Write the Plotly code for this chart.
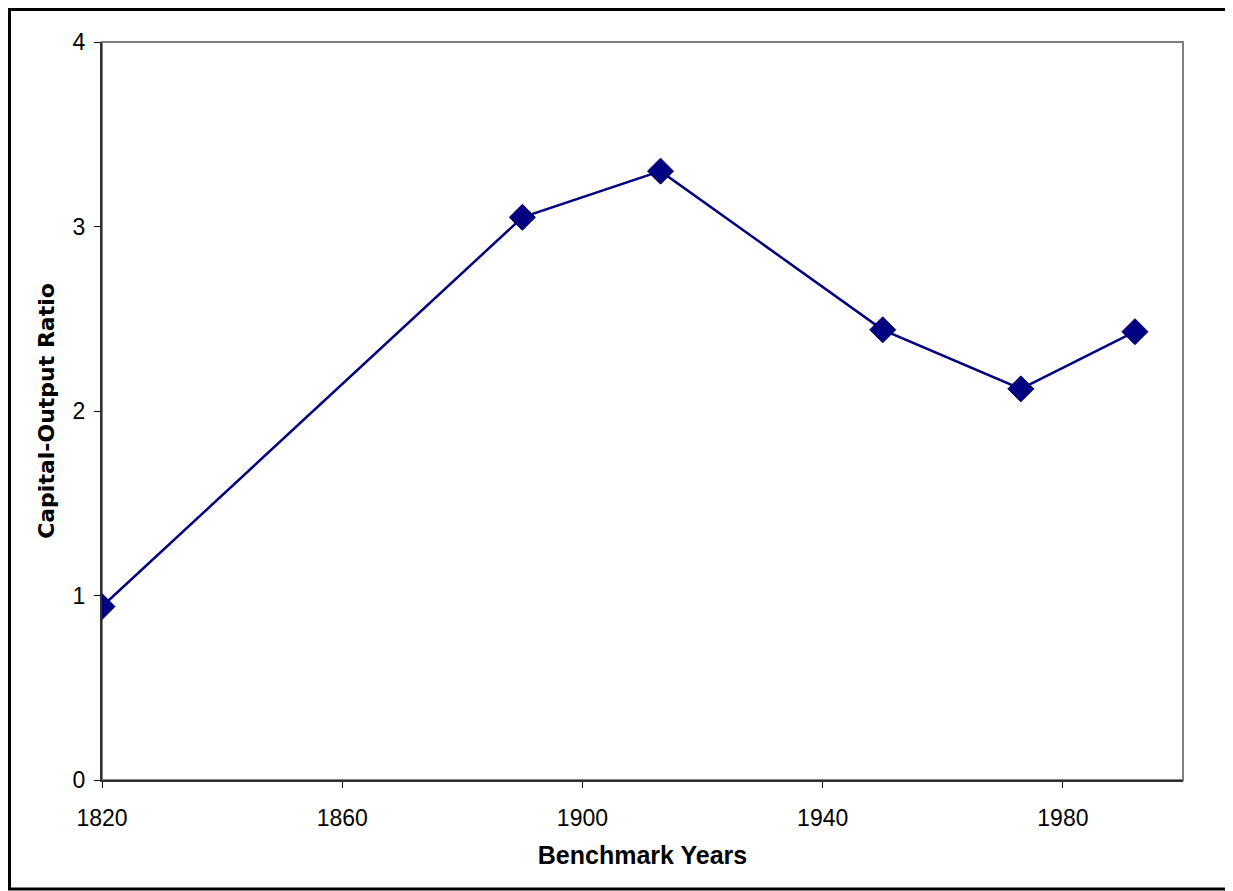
import plotly.graph_objects as go

# benchmark years and capital-output ratio
years = [1820, 1890, 1913, 1950, 1973, 1992]
ratio = [0.94, 3.05, 3.30, 2.44, 2.12, 2.43]

x_ticks = [1820, 1860, 1900, 1940, 1980]
y_ticks = [0, 1, 2, 3, 4]

# page body has an 8px margin, so the figure is a bit smaller than the window
W, H = 1225, 883
L, R, T, B = 94, 50, 34, 111
pw, ph = W - L - R, H - T - B

fig = go.Figure()
fig.add_trace(
    go.Scatter(
        x=years, y=ratio, mode="lines+markers",
        line=dict(color="#000080", width=2.5),
        marker=dict(symbol="diamond", size=20, color="#000080",
                    line=dict(color="#000060", width=1)),
        showlegend=False,
    )
)

fig.update_layout(
    width=W, height=H,
    margin=dict(l=L, r=R, t=T, b=B),
    paper_bgcolor="white", plot_bgcolor="white",
    font=dict(family="Liberation Sans, Arial", color="black", size=23),
)

fig.update_xaxes(
    range=[1820, 2000], tickvals=x_ticks, ticks="outside", ticklen=6,
    tickcolor="black", showgrid=False, zeroline=False,
    showline=True, linecolor="#303030", linewidth=2,
    ticklabelstandoff=10,
    title=dict(text="<b>Benchmark Years</b>", font=dict(size=25), standoff=17),
    tickfont=dict(size=23),
)
fig.update_yaxes(
    range=[0, 4], tickvals=y_ticks, ticks="outside", ticklen=6,
    tickcolor="black", showgrid=False, zeroline=False,
    showline=True, linecolor="#303030", linewidth=2,
    ticklabelstandoff=4,
    title=dict(text="<b>Capital-Output Ratio</b>",
               font=dict(size=22, family="DejaVu Sans"),
               standoff=12),
    tickfont=dict(size=23),
)

# grey plot frame (top and right)
fig.add_shape(type="rect", xref="paper", yref="paper", x0=0, x1=1, y0=0, y1=1,
              line=dict(color="#808080", width=2), layer="below")
# outer black chart border
fig.add_shape(type="rect", xref="paper", yref="paper",
              x0=(1.5 - L) / pw, x1=(1222 - L) / pw,
              y0=(H - B - 881) / ph, y1=(H - B - 1.5) / ph,
              line=dict(color="black", width=3))

fig.write_html("out.html")
